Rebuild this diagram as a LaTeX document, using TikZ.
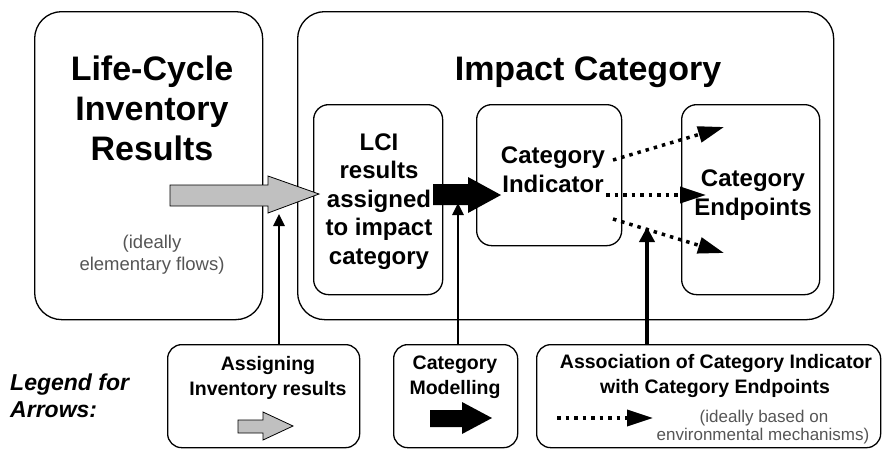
\documentclass[tikz,border=0pt]{standalone}
\usepackage{fontspec}
\setmainfont{Liberation Sans}
\usetikzlibrary{arrows.meta}
\definecolor{arrowgray}{RGB}{192,192,192}
\definecolor{notegray}{RGB}{85,85,85}
\begin{document}
\begin{tikzpicture}[x=1pt,y=-1pt,
  box/.style={draw, line width=1.3pt, inner sep=0pt, anchor=north west},
  bigbox/.style={box, rounded corners=27pt},
  smallbox/.style={box, rounded corners=15pt},
  legbox/.style={box, rounded corners=14pt},
  title/.style={anchor=base, inner sep=0pt, font=\fontsize{34}{40}\selectfont\bfseries},
  mid/.style={anchor=base, inner sep=0pt, font=\fontsize{24}{28}\selectfont\bfseries},
  leg/.style={anchor=base, inner sep=0pt, font=\fontsize{19.5}{23}\selectfont\bfseries},
  note/.style={anchor=base, inner sep=0pt, text=notegray, font=\fontsize{17}{20}\selectfont},
  blockgray/.style={draw, line width=0.8pt, fill=arrowgray},
  blockblack/.style={fill=black},
  uparrow/.style={line width=2.6pt, -{Triangle[length=12pt,width=11pt]}},
  uparrowthick/.style={line width=4.5pt, -{Triangle[length=15pt,width=15pt]}},
  dotarrow/.style={line width=3.5pt, dash pattern=on 3.5pt off 5pt, -{Triangle[length=26pt,width=16pt]}}
]
\useasboundingbox (0,0) rectangle (882,448);

% main boxes
\node[bigbox, minimum width=228pt, minimum height=308pt] (lcibox) at (34,11) {};
\node[bigbox, minimum width=536pt, minimum height=308pt] (impact) at (297,11) {};
\node[smallbox, minimum width=129pt, minimum height=190pt] (assigned) at (313,104) {};
\node[smallbox, minimum width=145pt, minimum height=141pt] (indicator) at (476,104) {};
\node[smallbox, minimum width=138pt, minimum height=190pt] (endpoints) at (681,104) {};

% legend boxes
\node[legbox, minimum width=192pt, minimum height=103pt] (legassign) at (167,344) {};
\node[legbox, minimum width=124pt, minimum height=103pt] (legmodel) at (393,344) {};
\node[legbox, minimum width=344pt, minimum height=103pt] (legassoc) at (536,344) {};

% texts
\node[title] (t1) at (152,80) {Life-Cycle};
\node[title] (t2) at (152,120) {Inventory};
\node[title] (t3) at (152,160) {Results};
\node[note, font=\fontsize{18.5}{22}\selectfont] (n1) at (152,248) {(ideally};
\node[note, font=\fontsize{18.5}{22}\selectfont] (n2) at (152,270) {elementary flows)};
\node[title] (t4) at (588,80) {Impact Category};

\node[mid] (a1) at (379,150) {LCI};
\node[mid] (a2) at (379,178.5) {results};
\node[mid] (a3) at (379,207) {assigned};
\node[mid] (a4) at (379,235.5) {to impact};
\node[mid] (a5) at (379,264) {category};

\node[mid] (c1) at (553,163) {Category};
\node[mid] (c2) at (553,192) {Indicator};

\node[mid] (e1) at (753,186) {Category};
\node[mid] (e2) at (753,215) {Endpoints};

\node[anchor=base west, inner sep=0pt, font=\fontsize{23}{27}\selectfont\bfseries\itshape] (lg1) at (10,390) {Legend for};
\node[anchor=base west, inner sep=0pt, font=\fontsize{23}{27}\selectfont\bfseries\itshape] (lg2) at (10,417) {Arrows:};

\node[leg] (l1) at (268,370) {Assigning};
\node[leg] (l2) at (268,395) {Inventory results};
\node[leg] (l3) at (455,369) {Category};
\node[leg] (l4) at (455,394) {Modelling};
\node[leg] (l5) at (716,368) {Association of Category Indicator};
\node[leg] (l6) at (715,393) {with Category Endpoints};
\node[note] (l7) at (764,422) {(ideally based on};
\node[note] (l8) at (763,440) {environmental mechanisms)};

% block arrows
\draw[blockgray] (170,185) -- (268,185) -- (268,176) -- (319,194) -- (268,213) -- (268,206) -- (170,206) -- cycle;
\fill[blockblack] (433,184) -- (468,184) -- (468,177) -- (501,195) -- (468,213) -- (468,205) -- (433,205) -- cycle;
\draw[blockgray] (238,420) -- (263,420) -- (263,412) -- (293,426) -- (263,440) -- (263,433) -- (238,433) -- cycle;
\fill[blockblack] (430,410) -- (462,410) -- (462,402) -- (492,418) -- (462,434) -- (462,427) -- (430,427) -- cycle;

% vertical arrows
\coordinate (v1s) at (279,344);
\coordinate (v1e) at (279,214);
\coordinate (v2s) at (458,344);
\coordinate (v2e) at (458,203);
\coordinate (v3s) at (647,344);
\coordinate (v3e) at (647,227);
\draw[uparrow] (v1s) -- (v1e);
\draw[uparrow] (v2s) -- (v2e);
\draw[uparrowthick] (v3s) -- (v3e);

% dotted arrows
\coordinate (d1s) at (613,160);
\coordinate (d1e) at (724,127);
\coordinate (d2s) at (606,195);
\coordinate (d2e) at (706,195);
\coordinate (d3s) at (613,219);
\coordinate (d3e) at (724,253);
\coordinate (d4s) at (557,418);
\coordinate (d4e) at (653,418);
\draw[dotarrow] (d1s) -- (d1e);
\draw[dotarrow] (d2s) -- (d2e);
\draw[dotarrow] (d3s) -- (d3e);
\draw[dotarrow] (d4s) -- (d4e);
\end{tikzpicture}
\end{document}
